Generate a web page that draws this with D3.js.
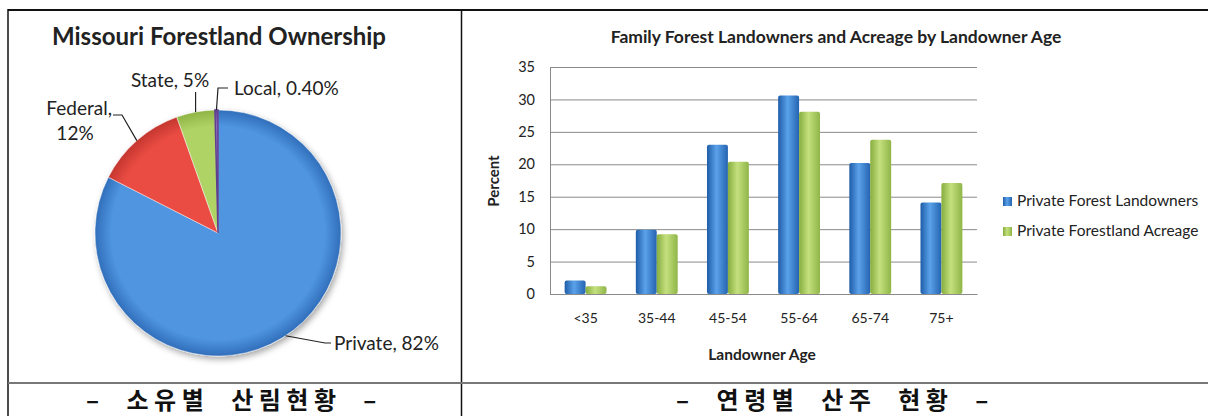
<!DOCTYPE html>
<html>
<head>
<meta charset="utf-8">
<script src="https://cdn.jsdelivr.net/npm/d3@7"></script>
<style>
  body { margin: 0; background: #fff; }
  svg { display: block; }
  .en { font-family: Lato, "Open Sans", sans-serif; }
  .ko { font-family: "Noto Sans CJK KR", sans-serif; font-weight: bold; }
</style>
</head>
<body>
<svg id="chart"></svg>
<script>
// data: ownership pie
var ownerNames = ["Private", "Federal", "State", "Local"];
var ownerShares = [82, 12, 5, 0.4];
var ownerLabels = ["Private, 82%", "Federal, 12%", "State, 5%", "Local, 0.40%"];

// data: bars by landowner age
var ageGroups = ["<35", "35-44", "45-54", "55-64", "65-74", "75+"];
var seriesNames = ["Private Forest Landowners", "Private Forestland Acreage"];
var landowners = [2.1, 9.9, 23.0, 30.6, 20.2, 14.1];
var acreage = [1.2, 9.2, 20.4, 28.1, 23.8, 17.1];
var yTicks = [0, 5, 10, 15, 20, 25, 30, 35];

var captions = ["–  소유별  산림현황  –", "–  연령별  산주  현황  –"];

var W = 1208, H = 416;
var svg = d3.select("#chart").attr("width", W).attr("height", H);
var defs = svg.append("defs");

// table frame
svg.append("line").attr("x1", 8).attr("x2", W).attr("y1", 10).attr("y2", 10)
  .attr("stroke", "#111").attr("stroke-width", 2);
svg.append("line").attr("x1", 8).attr("x2", 8).attr("y1", 9).attr("y2", H)
  .attr("stroke", "#111").attr("stroke-width", 1.5);
svg.append("line").attr("x1", 461.5).attr("x2", 461.5).attr("y1", 9).attr("y2", H)
  .attr("stroke", "#111").attr("stroke-width", 1.5);
svg.append("line").attr("x1", 8).attr("x2", W).attr("y1", 383).attr("y2", 383)
  .attr("stroke", "#777").attr("stroke-width", 2);

// ---------- pie ----------
var pieColors = [
  {c: "#4f95e0", e: "#2f6cb8"},
  {c: "#ea4c43", e: "#c2352d"},
  {c: "#b0d366", e: "#8db343"},
  {c: "#8e6cc0", e: "#5f3f8e"}
];
pieColors.forEach(function (p, i) {
  var g = defs.append("radialGradient").attr("id", "pg" + i)
    .attr("gradientUnits", "userSpaceOnUse")
    .attr("cx", 0).attr("cy", 0).attr("r", 124);
  g.append("stop").attr("offset", "0%").attr("stop-color", p.c);
  g.append("stop").attr("offset", "86%").attr("stop-color", p.c);
  g.append("stop").attr("offset", "100%").attr("stop-color", p.e);
});
var shadow = defs.append("filter").attr("id", "shadow")
  .attr("x", "-20%").attr("y", "-20%").attr("width", "140%").attr("height", "140%");
shadow.append("feDropShadow").attr("dx", 2).attr("dy", 3).attr("stdDeviation", 3)
  .attr("flood-color", "#000").attr("flood-opacity", 0.35);

var cx = 218, cy = 233, R = 123;
svg.append("text").attr("class", "en").attr("x", 219).attr("y", 45)
  .attr("text-anchor", "middle").attr("font-size", 24).attr("font-weight", "bold")
  .attr("fill", "#222").text("Missouri Forestland Ownership");

var pie = d3.pie().sort(null).value(function (d) { return d; });
var arcs = pie(ownerShares);
var arc = d3.arc().innerRadius(0).outerRadius(R);
var pg = svg.append("g").attr("transform", "translate(" + cx + "," + cy + ")");
pg.append("g").attr("filter", "url(#shadow)")
  .selectAll("path").data(arcs).enter().append("path")
  .attr("d", arc)
  .attr("fill", function (d, i) { return "url(#pg" + i + ")"; })
  .attr("stroke", function (d, i) { return i === 3 ? "#5f3f8e" : "rgba(255,255,255,0.45)"; })
  .attr("stroke-width", function (d, i) { return i === 3 ? 1.5 : 1; });

function edgePoint(angle) {
  return [cx + R * Math.sin(angle), cy - R * Math.cos(angle)];
}
// leader lines from slice edge to label
var leaders = [
  {a: 2.56, pts: [[325, 343], [331, 343]]},
  {a: null, pts: [[122, 115], [113, 115]]},
  {a: null, pts: [[null, 92]]},
  {a: null, pts: [[218, 88], [228, 88]]}
];
arcs.forEach(function (d, i) {
  var a = leaders[i].a !== null ? leaders[i].a : (d.startAngle + d.endAngle) / 2;
  var p0 = edgePoint(a);
  var pts = [p0].concat(leaders[i].pts.map(function (p) {
    return [p[0] === null ? p0[0] : p[0], p[1]];
  }));
  svg.append("path").attr("d", d3.line()(pts))
    .attr("fill", "none").attr("stroke", "#222").attr("stroke-width", 1.2);
});
var lblFont = 19;
svg.append("text").attr("class", "en").attr("x", 334).attr("y", 350)
  .attr("font-size", lblFont).attr("fill", "#222").text(ownerLabels[0]);
var fed = ownerLabels[1].split(" ");
svg.append("text").attr("class", "en").attr("x", 112).attr("y", 115)
  .attr("text-anchor", "end").attr("font-size", lblFont).attr("fill", "#222").text(fed[0]);
svg.append("text").attr("class", "en").attr("x", 75).attr("y", 140)
  .attr("text-anchor", "middle").attr("font-size", lblFont).attr("fill", "#222").text(fed[1]);
svg.append("text").attr("class", "en").attr("x", 170).attr("y", 87)
  .attr("text-anchor", "middle").attr("font-size", lblFont).attr("fill", "#222").text(ownerLabels[2]);
svg.append("text").attr("class", "en").attr("x", 234).attr("y", 95)
  .attr("font-size", lblFont).attr("fill", "#222").text(ownerLabels[3]);

// ---------- bars ----------
var plotL = 550, plotR = 977, plotT = 67, plotB = 294;
var y = d3.scaleLinear().domain([0, 35]).range([plotB, plotT]);
var x0 = d3.scaleBand().domain(ageGroups).range([plotL, plotR]);
var x1 = d3.scaleBand().domain(seriesNames).range([0, x0.bandwidth()]).paddingOuter(0.7);

var barCols = [["#1f5ca8", "#5aa2ea", "#2563b0"], ["#86ad3e", "#c4e07e", "#8fb548"]];
barCols.forEach(function (c, i) {
  var g = defs.append("linearGradient").attr("id", "bg" + i)
    .attr("x1", 0).attr("x2", 1).attr("y1", 0).attr("y2", 0);
  g.append("stop").attr("offset", "0%").attr("stop-color", c[0]);
  g.append("stop").attr("offset", "45%").attr("stop-color", c[1]);
  g.append("stop").attr("offset", "100%").attr("stop-color", c[2]);
});

svg.append("text").attr("class", "en").attr("x", 836).attr("y", 43)
  .attr("text-anchor", "middle").attr("font-size", 17.5).attr("font-weight", "bold")
  .attr("fill", "#222").text("Family Forest Landowners and Acreage by Landowner Age");

var yAxis = svg.append("g").attr("transform", "translate(" + plotL + ",0)")
  .call(d3.axisLeft(y).tickValues(yTicks).tickSize(-(plotR - plotL)).tickPadding(15));
yAxis.select(".domain").attr("stroke", "#8a8a8a");
yAxis.selectAll(".tick line").attr("stroke", "#8a8a8a");
yAxis.selectAll(".tick text").attr("class", "en").attr("font-size", 14.5).attr("fill", "#222");

var xAxis = svg.append("g").attr("transform", "translate(0," + plotB + ")")
  .call(d3.axisBottom(x0).tickSize(0).tickPadding(19));
xAxis.select(".domain").attr("stroke", "#8a8a8a");
xAxis.selectAll(".tick text").attr("class", "en").attr("font-size", 14).attr("fill", "#222");

var rows = ageGroups.map(function (g, i) { return {g: g, v: [landowners[i], acreage[i]]}; });
var grp = svg.selectAll(".grp").data(rows).enter().append("g")
  .attr("transform", function (d) { return "translate(" + x0(d.g) + ",0)"; });
grp.selectAll("rect").data(function (d) {
    return d.v.map(function (v, i) { return {s: seriesNames[i], v: v, i: i}; });
  }).enter().append("rect")
  .attr("x", function (d) { return x1(d.s); })
  .attr("y", function (d) { return y(d.v); })
  .attr("width", x1.bandwidth())
  .attr("height", function (d) { return plotB - y(d.v); })
  .attr("rx", 2)
  .attr("fill", function (d) { return "url(#bg" + d.i + ")"; });

svg.append("text").attr("class", "en").attr("x", 762).attr("y", 360)
  .attr("text-anchor", "middle").attr("font-size", 15.5).attr("font-weight", "bold")
  .attr("fill", "#222").text("Landowner Age");
svg.append("text").attr("class", "en")
  .attr("transform", "translate(499,181) rotate(-90)")
  .attr("text-anchor", "middle").attr("font-size", 15).attr("font-weight", "bold")
  .attr("fill", "#222").text("Percent");

var leg = svg.selectAll(".leg").data(seriesNames).enter().append("g")
  .attr("transform", function (d, i) { return "translate(1003," + (201 + i * 30) + ")"; });
leg.append("rect").attr("x", 0).attr("y", -4).attr("width", 9).attr("height", 9)
  .attr("fill", function (d, i) { return "url(#bg" + i + ")"; });
leg.append("text").attr("class", "en").attr("x", 14).attr("y", 5)
  .attr("font-size", 15.5).attr("fill", "#222").text(function (d) { return d; });

// ---------- captions ----------
svg.selectAll(".cap").data(captions).enter().append("text")
  .attr("class", "ko")
  .attr("x", function (d, i) { return i === 0 ? 234 : 835; })
  .attr("y", 409)
  .attr("text-anchor", "middle").attr("font-size", 24)
  .attr("letter-spacing", 5.5).attr("fill", "#111")
  .style("white-space", "pre")
  .text(function (d) { return d; });
</script>
</body>
</html>
